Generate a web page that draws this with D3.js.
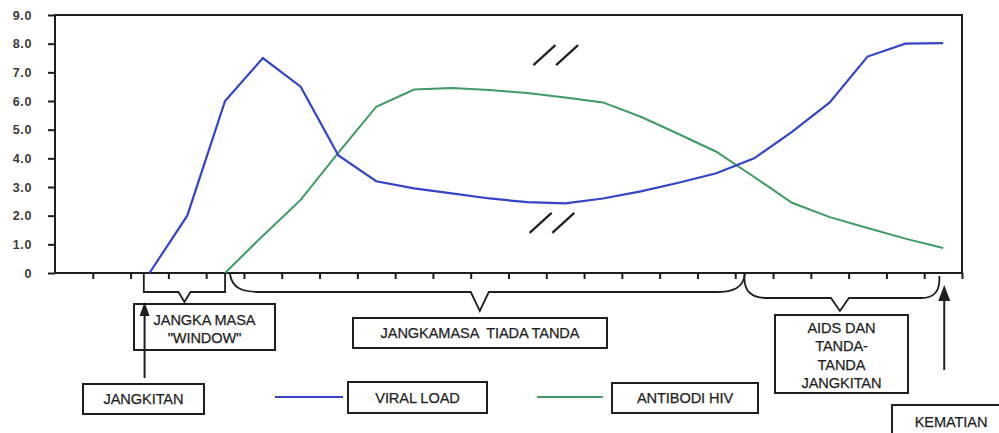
<!DOCTYPE html>
<html><head><meta charset="utf-8">
<script src="https://cdn.jsdelivr.net/npm/d3@7"></script>
<style>html,body{margin:0;padding:0;background:#fff;}svg{display:block;}</style>
</head><body>
<script>
// ---- data ----
const yTicks = [0,1,2,3,4,5,6,7,8,9];
const yTickLabels = ["0","1.0","2.0","3.0","4.0","5.0","6.0","7.0","8.0","9.0"];
const xTicks = d3.range(1,25);
const viralX = [2.5,3.5,4.5,5.5,6.5,7.5,8.5,9.5,10.5,11.5,12.5,13.5,14.5,15.5,16.5,17.5,18.5,19.5,20.5,21.5,22.5,23.5];
const viralLoad = [0,2.0,6.0,7.5,6.5,4.1,3.2,2.95,2.78,2.6,2.47,2.43,2.6,2.85,3.15,3.48,4.0,4.92,5.95,7.55,8.0,8.02];
const antiX = [4.5,5.5,6.5,7.5,8.5,9.5,10.5,11.5,12.5,13.5,14.5,15.5,16.5,17.5,18.5,19.5,20.5,21.5,22.5,23.5];
const antibodi = [0,1.3,2.55,4.2,5.8,6.4,6.45,6.38,6.28,6.12,5.95,5.45,4.85,4.23,3.35,2.45,1.95,1.57,1.2,0.87];
const seriesNames = ["VIRAL LOAD","ANTIBODI HIV"];
const phaseLabels = [["JANGKA MASA","\"WINDOW\""],["JANGKAMASA  TIADA TANDA"],["AIDS DAN","TANDA-","TANDA","JANGKITAN"]];
const eventLabels = ["JANGKITAN","KEMATIAN"];
const breakMarks = [{x:13.25,y:7.6},{x:13.15,y:1.75}];

const W=999,H=433;
const svg=d3.select("body").append("svg").attr("width",W).attr("height",H);
const x=d3.scaleLinear().domain([0,24]).range([55,962]);
const y=d3.scaleLinear().domain([0,9]).range([273,15]);
const ink="#1e1e1e";
const blue="#3344c8", green="#3f9a66";
const font="'Liberation Sans', Arial, sans-serif";

// frame
svg.append("rect").attr("x",x(0)).attr("y",y(9)).attr("width",x(24)-x(0)).attr("height",y(0)-y(9))
  .attr("fill","none").attr("stroke",ink).attr("stroke-width",2);

// y axis ticks + labels
const yAxis=svg.append("g").attr("transform",`translate(${x(0)},0)`)
  .call(d3.axisLeft(y).tickValues(yTicks).tickSize(7).tickFormat((d,i)=>yTickLabels[i]));
yAxis.select(".domain").remove();
yAxis.selectAll("line").attr("stroke",ink).attr("stroke-width",2);
yAxis.selectAll("text").attr("x",-23).attr("fill","#3a3a3a").style("font-family",font)
  .style("font-size","12.5px").style("font-weight","bold").style("letter-spacing","0.6px");

// x axis ticks
const xAxis=svg.append("g").attr("transform",`translate(0,${y(0)})`)
  .call(d3.axisBottom(x).tickValues(xTicks).tickSize(6).tickFormat(""));
xAxis.select(".domain").remove();
xAxis.selectAll("line").attr("stroke",ink).attr("stroke-width",2);

// series
const line=d3.line().x(d=>x(d[0])).y(d=>y(d[1]));
svg.append("path").datum(antiX.map((v,i)=>[v,antibodi[i]])).attr("d",line)
  .attr("fill","none").attr("stroke",green).attr("stroke-width",2);
svg.append("path").datum(viralX.map((v,i)=>[v,viralLoad[i]])).attr("d",line)
  .attr("fill","none").attr("stroke",blue).attr("stroke-width",2.2);

// break marks
breakMarks.forEach(b=>{
  [-0.3,0.3].forEach(o=>{
    const cx=x(b.x+o), cy=y(b.y);
    svg.append("line").attr("x1",cx-11).attr("y1",cy+10).attr("x2",cx+11).attr("y2",cy-10)
      .attr("stroke",ink).attr("stroke-width",2.2);
  });
});

// brackets / braces
const by=y(0);
function stroke(p){return svg.append("path").attr("d",p).attr("fill","none").attr("stroke",ink).attr("stroke-width",1.8);}
const wL=x(2.35), wR=x(4.5), wM=(wL+wR)/2;
stroke(`M${wL},${by} V292 H${wM-6} L${wM},302 L${wM+6},292 H${wR} V${by}`);
const tL=x(4.63), tR=x(18.25), tM=x(11.24);
stroke(`M${tL},${by+1} C${tL+2},288 ${tL+12},292 ${tL+30},292 H${tM-9} L${tM},311 L${tM+9},292 H${tR-28} C${tR-12},292 ${tR-1},288 ${tR},${by+1}`);
const aL=x(18.25), aR=x(23.4), aM=x(20.77);
stroke(`M${aL},${by+1} C${aL-2},292 ${aL+8},298 ${aL+22},298 H${aM-9} L${aM},311 L${aM+9},298 H${aR-18} C${aR-6},298 ${aR+1},292 ${aR},${by+3}`);

// arrows
function arrow(ax,y0,y1,hw,hl){
  svg.append("line").attr("x1",ax).attr("y1",y0).attr("x2",ax).attr("y2",y1+hl-2).attr("stroke",ink).attr("stroke-width",2);
  svg.append("path").attr("d",`M${ax},${y1} L${ax-hw},${y1+hl} L${ax+hw},${y1+hl} Z`).attr("fill",ink);
}

// boxes with text
function box(x0,y0,x1,y1,lines,cy,lh){
  svg.append("rect").attr("x",x0).attr("y",y0).attr("width",x1-x0).attr("height",y1-y0)
    .attr("fill","#fff").attr("stroke",ink).attr("stroke-width",2);
  const t=svg.append("text").attr("text-anchor","middle").attr("fill",ink)
    .attr("stroke",ink).attr("stroke-width",0.25)
    .style("font-family",font).style("font-size","14.6px").style("letter-spacing","-0.1px").style("white-space","pre");
  lines.forEach((s,i)=>t.append("tspan").attr("x",(x0+x1)/2).attr("y",cy+i*lh).attr("dominant-baseline","central").text(s));
}
box(134,304,275,350,phaseLabels[0],320,18);
arrow(x(2.37),378,302,5,14);
box(353,318,607,348,phaseLabels[1],333,0);
box(775,315,908,393,phaseLabels[2],328,18.4);
box(83,384,204,414,[eventLabels[0]],399,0);
arrow(x(23.53),370,285,6,16);
box(892,405,1010,445,[eventLabels[1]],422,0);

// legend
svg.append("line").attr("x1",275).attr("x2",343).attr("y1",397).attr("y2",397).attr("stroke",blue).attr("stroke-width",2);
box(348,382,487,413,[seriesNames[0]],397.5,0);
svg.append("line").attr("x1",537).attr("x2",603).attr("y1",397).attr("y2",397).attr("stroke",green).attr("stroke-width",2);
box(612,383,758,413,[seriesNames[1]],398,0);
</script>
</body></html>
